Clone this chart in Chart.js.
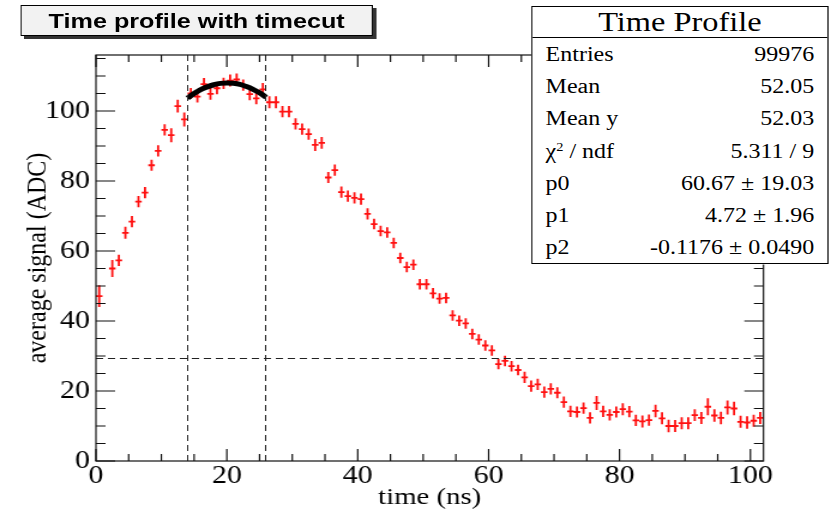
<!DOCTYPE html>
<html>
<head>
<meta charset="utf-8">
<script src="https://cdn.jsdelivr.net/npm/chart.js@4.4.1/dist/chart.umd.min.js"></script>
<style>
  html, body { margin: 0; padding: 0; background: #fff; overflow: hidden; }
  /* the reference picture is stretched sideways, so draw narrow and widen */
  #stage { position: absolute; left: 0; top: 0; width: 693px; height: 515px;
           transform: scaleX(1.19913); transform-origin: 0 0; }
  #profileChart { position: absolute; left: 0; top: 0; }
  #title { position: absolute; left: 17px; top: 5px; width: 292px; height: 29px;
           border: 1px solid #000; background: #f2f2f2; box-shadow: 3px 3px 0 #333;
           font: bold 21px "Liberation Sans", Arial, sans-serif; text-align: center; line-height: 29px; }
  #stats { position: absolute; left: 443px; top: 6px; width: 246px; height: 256px;
           border: 1px solid #000; background: #fff; font-family: "Liberation Serif", "Times New Roman", serif; }
  #stats .head { height: 30px; line-height: 31px; border-bottom: 1px solid #000; text-align: center; font-size: 27px; }
  #stats .row { height: 32.2px; line-height: 32px; font-size: 20px; padding: 0 11px; display: flex; justify-content: space-between; }
  #stats sup { font-size: 12px; line-height: 0; vertical-align: 7px; }
</style>
</head>
<body>
<div id="stage">
  <canvas id="profileChart" width="693" height="515"></canvas>
  <div id="title">Time profile with timecut</div>
  <div id="stats">
    <div class="head">Time Profile</div>
    <div class="row"><span>Entries</span><span>99976</span></div>
    <div class="row"><span>Mean</span><span>52.05</span></div>
    <div class="row"><span>Mean y</span><span>52.03</span></div>
    <div class="row"><span>&chi;<sup>2</sup> / ndf</span><span>5.311 / 9</span></div>
    <div class="row"><span>p0</span><span>60.67 &plusmn; 19.03</span></div>
    <div class="row"><span>p1</span><span>4.72 &plusmn; 1.96</span></div>
    <div class="row"><span>p2</span><span>-0.1176 &plusmn; 0.0490</span></div>
  </div>
</div>
<script>
const binWidth = 1;   // ns, bins start at 0

// average signal per 1 ns bin (bin 1 is empty)
const signal = [
  47.1, null, 55.0, 57.3, 65.2, 68.4, 74.1, 76.7, 84.5, 88.6,
  94.6, 93.1, 101.4, 97.6, 105.0, 104.1, 107.7, 104.9, 106.5, 107.9,
  108.7, 109.0, 107.4, 104.8, 103.6, 106.2, 102.5, 102.5, 99.8, 99.8,
  96.3, 94.8, 93.4, 90.3, 90.9, 81.0, 83.1, 76.8, 75.7, 75.2,
  74.8, 70.6, 67.7, 65.7, 65.3, 62.3, 58.0, 55.4, 56.1, 50.5,
  50.5, 47.9, 46.4, 46.6, 41.6, 40.1, 39.3, 36.3, 34.7, 33.0,
  31.6, 27.7, 28.6, 27.1, 26.0, 23.9, 21.4, 21.9, 19.7, 20.6,
  19.5, 16.8, 14.2, 14.0, 15.1, 12.3, 16.6, 14.2, 13.2, 14.0,
  14.8, 14.1, 11.6, 11.3, 11.7, 14.3, 12.2, 10.0, 10.0, 10.8,
  10.8, 13.1, 12.3, 15.5, 13.0, 12.3, 15.3, 15.0, 11.2, 11.0,
  11.5, 12.3
];

const signalErr = [
  3.1, 0, 2.4, 1.6, 1.7, 1.6, 1.6, 1.6, 1.6, 1.6,
  1.6, 2.0, 1.8, 2.0, 1.6, 1.7, 1.7, 1.7, 1.7, 1.6,
  1.7, 1.7, 1.6, 1.7, 1.7, 1.8, 1.7, 1.7, 1.6, 1.6,
  1.6, 1.6, 1.6, 1.7, 1.7, 1.6, 1.6, 1.6, 1.6, 1.6,
  1.6, 1.6, 1.5, 1.5, 1.5, 1.5, 1.5, 1.5, 1.5, 1.5,
  1.5, 1.5, 1.5, 1.5, 1.5, 1.5, 1.5, 1.5, 1.5, 1.5,
  1.5, 1.5, 1.5, 1.5, 1.5, 1.6, 1.6, 1.6, 1.6, 1.6,
  1.6, 1.6, 1.6, 1.6, 1.6, 1.6, 2.0, 1.6, 1.6, 1.6,
  1.7, 1.6, 1.6, 1.7, 1.6, 1.8, 1.7, 1.8, 1.7, 1.7,
  1.7, 1.7, 1.7, 2.4, 1.8, 1.8, 2.0, 1.9, 1.7, 1.8,
  1.7, 1.7
];

// pol2 fit inside the time cut
const fitTime = [14, 15, 16, 17, 18, 19, 20, 21, 22, 23, 24, 25, 26];
const fitSignal = [103.7, 105.0, 106.1, 106.9, 107.5, 107.9, 108.0, 107.9, 107.6, 107.0, 106.2, 105.2, 103.9];

const timeCut = [14.0, 25.9];
const signalCut = 29.3;

const xTicks = [0, 20, 40, 60, 80, 100];
const yTicks = [0, 20, 40, 60, 80, 100];

const points = signal.map((v, i) => ({ x: (i + 0.5) * binWidth, y: v }));
const fitPoints = fitTime.map((t, i) => ({ x: t, y: fitSignal[i] }));

const serif = '"Liberation Serif", "Times New Roman", serif';

// red crosses: +-half bin sideways, +-error up and down
const errorBars = {
  id: 'errorBars',
  beforeDatasetsDraw(chart) {
    const ctx = chart.ctx, xs = chart.scales.x, ys = chart.scales.y;
    const meta = chart.getDatasetMeta(0);
    ctx.save();
    ctx.strokeStyle = '#ff1010';
    ctx.lineWidth = 1.8;
    ctx.beginPath();
    meta.data.forEach((pt, i) => {
      if (pt.skip || signal[i] === null) return;
      const xl = xs.getPixelForValue(points[i].x - binWidth / 2);
      const xr = xs.getPixelForValue(points[i].x + binWidth / 2);
      const yt = ys.getPixelForValue(signal[i] + signalErr[i]);
      const yb = ys.getPixelForValue(signal[i] - signalErr[i]);
      ctx.moveTo(xl, pt.y); ctx.lineTo(xr, pt.y);
      ctx.moveTo(pt.x, yt); ctx.lineTo(pt.x, yb);
    });
    ctx.stroke();
    ctx.restore();
  }
};

// ROOT style frame, inward ticks on all sides, and the dashed cut lines
const frame = {
  id: 'frame',
  afterDatasetsDraw(chart) {
    const ctx = chart.ctx, xs = chart.scales.x, ys = chart.scales.y;
    const a = chart.chartArea;
    ctx.save();
    ctx.strokeStyle = '#222';
    ctx.lineWidth = 1;
    ctx.setLineDash([6, 4]);
    ctx.beginPath();
    timeCut.forEach(t => {
      const x = Math.round(xs.getPixelForValue(t)) + 0.5;
      ctx.moveTo(x, a.top); ctx.lineTo(x, a.bottom);
    });
    const yc = Math.round(ys.getPixelForValue(signalCut)) + 0.5;
    ctx.moveTo(a.left, yc); ctx.lineTo(a.right, yc);
    ctx.stroke();
    ctx.setLineDash([]);

    ctx.strokeStyle = '#111';
    ctx.lineWidth = 1.2;
    ctx.strokeRect(a.left, a.top, a.right - a.left, a.bottom - a.top);
    ctx.beginPath();
    for (let v = 0; v <= xs.max; v += 5) {
      const x = xs.getPixelForValue(v);
      const len = v % 20 === 0 ? 12 : 7;
      ctx.moveTo(x, a.bottom); ctx.lineTo(x, a.bottom - len);
      ctx.moveTo(x, a.top); ctx.lineTo(x, a.top + len);
    }
    for (let v = 0; v <= ys.max; v += 5) {
      const y = ys.getPixelForValue(v);
      const len = v % 20 === 0 ? 16 : 8;
      ctx.moveTo(a.left, y); ctx.lineTo(a.left + len, y);
      ctx.moveTo(a.right, y); ctx.lineTo(a.right - len, y);
    }
    ctx.stroke();
    ctx.restore();
  }
};

new Chart(document.getElementById('profileChart'), {
  type: 'scatter',
  data: {
    datasets: [
      {
        label: 'Time Profile',
        data: points,
        pointRadius: 0,
        showLine: false
      },
      {
        type: 'line',
        label: 'pol2',
        data: fitPoints,
        borderColor: '#000',
        borderWidth: 5,
        pointRadius: 0,
        tension: 0.4,
        fill: false
      }
    ]
  },
  options: {
    responsive: false,
    animation: false,
    devicePixelRatio: 1,
    layout: { padding: { left: 0, top: 55, right: 56.3, bottom: 0 } },
    plugins: {
      legend: { display: false },
      tooltip: { enabled: false }
    },
    scales: {
      x: {
        type: 'linear',
        min: 0,
        max: 102,
        afterBuildTicks(s) { s.ticks = xTicks.map(v => ({ value: v })); },
        afterFit(s) { s.height = 54; },
        grid: { display: false, drawTicks: false },
        border: { display: false },
        ticks: { color: '#000', font: { family: serif, size: 25 }, padding: 0, maxRotation: 0, autoSkip: false },
        title: { display: true, text: 'time (ns)', color: '#000', font: { family: serif, size: 24 }, padding: { top: 0, bottom: 3 } }
      },
      y: {
        type: 'linear',
        min: 0,
        max: 116,
        afterBuildTicks(s) { s.ticks = yTicks.map(v => ({ value: v })); },
        afterFit(s) { s.width = 80; },
        grid: { display: false, drawTicks: false },
        border: { display: false },
        ticks: { color: '#000', font: { family: serif, size: 25 }, padding: 5, autoSkip: false },
        title: { display: true, text: 'average signal (ADC)', color: '#000', font: { family: serif, size: 24 }, padding: { top: 17, bottom: 0 } }
      }
    }
  },
  plugins: [errorBars, frame]
});
</script>
</body>
</html>
